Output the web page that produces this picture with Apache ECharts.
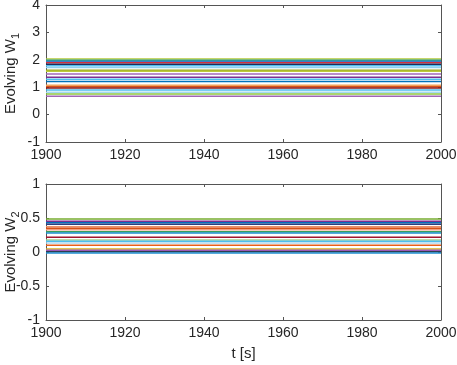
<html>
<head>
    <meta charset="utf-8" />
    <script src="https://cdn.jsdelivr.net/npm/echarts@6/dist/echarts.min.js"></script>
    <style>
        body { margin: 0; overflow: hidden; background: #fff; }
        #main { width: 457px; height: 365px; }
    </style>
</head>
<body>
    <div id="main"></div>
    <script type="text/javascript">
        // time span of every trace
        var times = [1900, 2000];

        // W1 levels (top panel), top to bottom
        var w1Values = [2.03, 1.98, 1.94, 1.89, 1.84, 1.78, 1.72, 1.62, 1.58, 1.48,
                        1.36, 1.29, 1.21, 1.07, 1.02, 0.97, 0.90, 0.82, 0.75, 0.67];
        var w1Colors = ['#b3c93a', '#2e9e8f', '#3b7cc4', '#d62f3a', '#1c2c5c', '#4dbeee', '#8fd0ee',
                        '#9aa51e', '#bccb3a', '#a068b8', '#7e2f8e', '#4dbeee', '#0072bd', '#f2a25c',
                        '#d95319', '#8b1a1a', '#4dbeee', '#a6d9f0', '#8dc63f', '#a066b4'];

        // W2 levels (bottom panel), top to bottom
        var w2Values = [0.485, 0.452, 0.431, 0.407, 0.372, 0.348, 0.328, 0.299, 0.279, 0.216,
                        0.176, 0.157, 0.132, 0.098, 0.044, 0.025, 0.004, -0.015];
        var w2Colors = ['#77ac30', '#7e2f8e', '#0072bd', '#2c3e80', '#e8916a', '#d95319', '#f0a080',
                        '#3a9e5c', '#1e90d0', '#a2142f', '#a8d08d', '#4dbeee', '#b0d8f0', '#e8601c',
                        '#d4b020', '#9b59b6', '#2c3e50', '#1f8fd0'];

        var xTicks = [1900, 1920, 1940, 1960, 1980, 2000];

        var font = 'Liberation Sans, Arial, sans-serif';
        var axisColor = '#555';
        var textColor = '#262626';

        function plain(v) { return String(v); }

        function xAxisPair(gridIndex, showName) {
            return [{
                type: 'value', gridIndex: gridIndex, min: xTicks[0], max: xTicks[xTicks.length - 1], interval: 20,
                axisLine: { onZero: false, lineStyle: { color: axisColor } },
                axisTick: { inside: true, length: 3, lineStyle: { color: axisColor } },
                axisLabel: { color: textColor, fontSize: 14, fontFamily: font, margin: 6, formatter: plain },
                splitLine: { show: false },
                name: showName ? 't [s]' : '', nameLocation: 'middle', nameGap: 26, nameMoveOverlap: false,
                nameTextStyle: { color: textColor, fontSize: 15, fontFamily: font }
            }, {
                type: 'value', gridIndex: gridIndex, position: 'top', min: xTicks[0], max: xTicks[xTicks.length - 1], interval: 20,
                axisLine: { onZero: false, lineStyle: { color: axisColor } },
                axisTick: { inside: true, length: 3, lineStyle: { color: axisColor } },
                axisLabel: { show: false }, splitLine: { show: false }
            }];
        }

        function yAxisPair(gridIndex, min, max, interval, sub) {
            return [{
                type: 'value', gridIndex: gridIndex, min: min, max: max, interval: interval,
                axisLine: { show: true, onZero: false, lineStyle: { color: axisColor } },
                axisTick: { show: true, inside: true, length: 3, lineStyle: { color: axisColor } },
                axisLabel: { color: textColor, fontSize: 14, fontFamily: font, margin: 6, formatter: plain },
                splitLine: { show: false },
                name: '{a|Evolving W}{b|' + sub + '}', nameLocation: 'middle', nameGap: 25, nameMoveOverlap: false,
                nameTextStyle: {
                    rich: {
                        a: { color: textColor, fontSize: 15, fontFamily: font },
                        b: { color: textColor, fontSize: 11, fontFamily: font, padding: [9, 0, 0, 0] }
                    }
                }
            }, {
                type: 'value', gridIndex: gridIndex, position: 'right', min: min, max: max, interval: interval,
                axisLine: { show: true, onZero: false, lineStyle: { color: axisColor } },
                axisTick: { show: true, inside: true, length: 3, lineStyle: { color: axisColor } },
                axisLabel: { show: false }, splitLine: { show: false }
            }];
        }

        function makeSeries(values, colors, xIdx, yIdx) {
            return values.map(function(v, i) {
                return {
                    type: 'line', xAxisIndex: xIdx, yAxisIndex: yIdx,
                    data: times.map(function(t) { return [t, v]; }),
                    symbol: 'none', silent: true, animation: false,
                    lineStyle: { color: colors[i], width: 1.5 }
                };
            });
        }

        var chart = echarts.init(document.getElementById('main'));
        chart.setOption({
            animation: false,
            grid: [
                { left: 46, right: 16, top: 5, height: 137, outerBoundsMode: 'none' },
                { left: 46, right: 16, top: 184, height: 136, outerBoundsMode: 'none' }
            ],
            xAxis: xAxisPair(0, false).concat(xAxisPair(1, true)),
            yAxis: yAxisPair(0, -1, 4, 1, '1').concat(yAxisPair(1, -1, 1, 0.5, '2')),
            series: makeSeries(w1Values, w1Colors, 0, 0).concat(makeSeries(w2Values, w2Colors, 2, 2))
        });
    </script>
</body>
</html>
